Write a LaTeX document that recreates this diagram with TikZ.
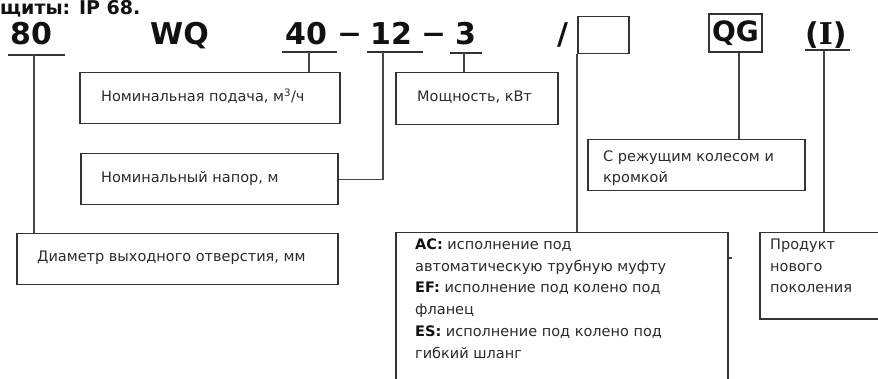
\documentclass[tikz,border=0pt]{standalone}
\usepackage{fontspec}
\setmainfont{DejaVu Sans}
\newfontfamily\serifbold{DejaVu Serif}
\definecolor{ink}{HTML}{111111}
\definecolor{txt}{HTML}{2B2B2B}
\definecolor{edge}{HTML}{333333}
\definecolor{wire}{HTML}{444444}
\begin{document}
\begin{tikzpicture}[x=1pt,y=-1pt,
  code/.style={font=\fontsize{30}{30}\selectfont\bfseries, text=ink, inner sep=0, anchor=base west},
  dashlab/.style={font=\fontsize{46}{46}\selectfont, text=ink, inner sep=0, anchor=base west},
  uline/.style={draw=edge, line width=1.6pt},
  boxframe/.style={draw=edge, line width=1.5pt, anchor=north west, inner sep=0},
  wirestyle/.style={draw=wire, line width=1.4pt},
  boxtxt/.style={font=\fontsize{14.5}{17}\selectfont, text=txt, inner sep=0, anchor=base west}
]
\clip (0,0) rectangle (878,379);
\fill[white] (0,0) rectangle (878,379);

% heading at the top edge
\node[anchor=base west, inner sep=0, font=\fontsize{19}{19}\selectfont\bfseries, text=ink] (hdr) at (0,15) {щиты: IP 68.};

% code labels
\node[code] (n80) at (10,45) {80};
\node[code] (nwq) at (150,45) {WQ};
\node[code] (n40) at (285,45) {40};
\node[dashlab] (d1) at (338,48) {–};
\node[code] (n12) at (370,45) {12};
\node[dashlab] (d2) at (422,48) {–};
\node[code] (n3) at (455,45) {3};
\node[code] (slash) at (557,45) {/};
\node[boxframe, minimum width=51pt, minimum height=37pt] (blank) at (577,16) {};
\node[draw=edge, line width=1.5pt, inner sep=0, minimum width=53pt, minimum height=38pt,
      font=\fontsize{28}{28}\selectfont\bfseries, text=ink] (qg) at (735.5,33) {QG};
\node[code] (nI) at (805,45) {({\serifbold I})};

% underlines
\coordinate (u80) at (34,55);
\coordinate (u40) at (309,52);
\coordinate (u12) at (383,52);
\coordinate (u3) at (464,53);
\coordinate (uI) at (824,51);
\draw[uline] (8,55) -- (65,55);
\draw[uline] (282,52) -- (337,52);
\draw[uline] (367,52) -- (423,52);
\draw[uline] (450,53) -- (482,53);
\draw[uline] (805,50) -- (850,50);

% boxes
\node[boxframe, minimum width=260pt, minimum height=51pt] (bq) at (79,72) {};
\node[boxframe, minimum width=257pt, minimum height=51pt] (bh) at (80,153) {};
\node[boxframe, minimum width=162pt, minimum height=52pt] (bp) at (395,72) {};
\node[boxframe, minimum width=321pt, minimum height=51pt] (bd) at (16,233) {};
\node[boxframe, minimum width=217pt, minimum height=51pt] (bc) at (587,139) {};
\node[boxframe, minimum width=332pt, minimum height=200pt] (bac) at (395,232) {};
\node[boxframe, minimum width=140pt, minimum height=86pt] (bn) at (759,232) {};

% box texts
\node[boxtxt] (tq) at (101,102) {Номинальная подача, м\textsuperscript{3}/ч};
\node[boxtxt] (th) at (101,183) {Номинальный напор, м};
\node[boxtxt] (tp) at (417,102) {Мощность, кВт};
\node[boxtxt] (td) at (37,262) {Диаметр выходного отверстия, мм};
\node[boxtxt] (tc1) at (603,162) {С режущим колесом и};
\node[boxtxt] (tc2) at (603,183) {кромкой};
\node[boxtxt] (ta1) at (415,250) {{\bfseries\color{ink}AC:} исполнение под};
\node[boxtxt] (ta2) at (415,272) {автоматическую трубную муфту};
\node[boxtxt] (ta3) at (415,293) {{\bfseries\color{ink}EF:} исполнение под колено под};
\node[boxtxt] (ta4) at (415,315) {фланец};
\node[boxtxt] (ta5) at (415,337) {{\bfseries\color{ink}ES:} исполнение под колено под};
\node[boxtxt] (ta6) at (415,358) {гибкий шланг};
\node[boxtxt] (tn1) at (770,250) {Продукт};
\node[boxtxt] (tn2) at (770,272) {нового};
\node[boxtxt] (tn3) at (770,293) {поколения};

% connectors
\draw[wirestyle] (u80) -- (u80 |- bd.north);
\draw[wirestyle] (u40) -- (u40 |- bq.north);
\draw[wirestyle] (u12) -- (u12 |- bh.east) -- (bh.east);
\draw[wirestyle] (u3) -- (u3 |- bp.north);
\draw[wirestyle] (blank.south west) -- (blank.south west |- bac.north);
\draw[wirestyle] ([xshift=3.5pt]qg.south) -- ([xshift=3.5pt]qg.south |- bc.north);
\draw[wirestyle] (uI) -- (uI |- bn.north);
\draw[wirestyle] (bac.north east |- 0,258) -- ++(3,0);
\end{tikzpicture}
\end{document}
